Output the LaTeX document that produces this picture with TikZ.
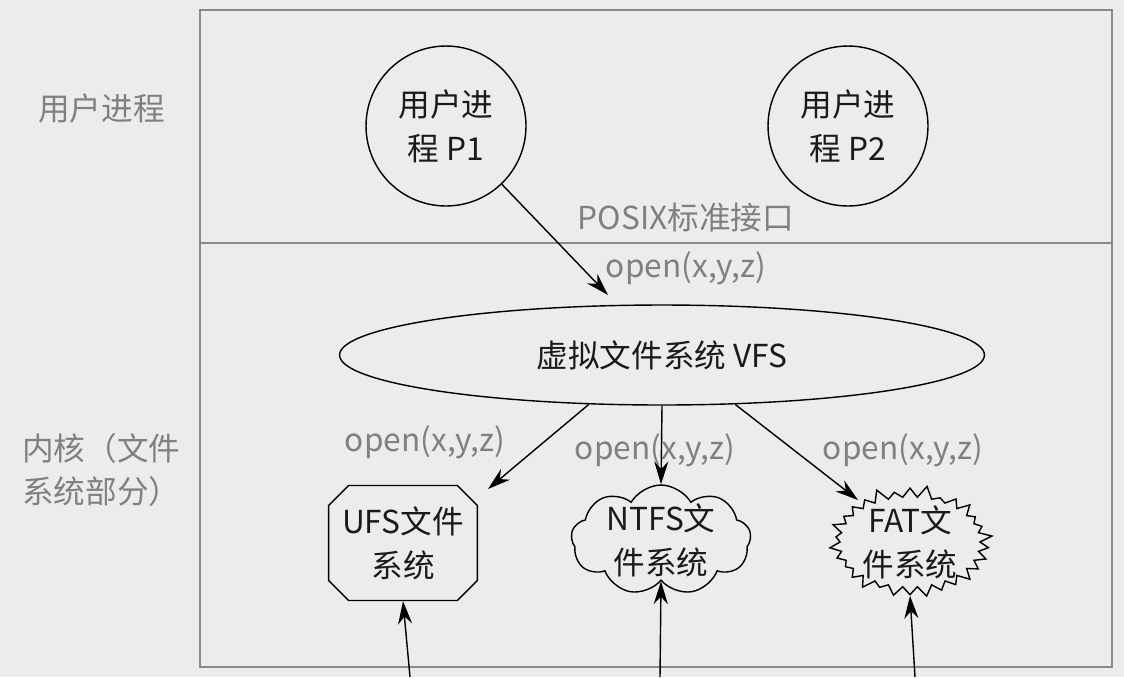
\documentclass[tikz,border=0pt]{standalone}
\usepackage{fontspec}
\setmainfont{Noto Sans CJK SC}
\usetikzlibrary{shapes.geometric,shapes.symbols,shapes.misc,arrows.meta}
\definecolor{bg}{HTML}{ECECEC}
\definecolor{frame}{HTML}{8A8A8A}
\definecolor{note}{HTML}{808080}
\definecolor{ink}{HTML}{1A1A1A}
\tikzset{
	proc/.style={circle, draw, thick, minimum size=3.2cm, align=center, text=ink},
	fs/.style={draw, thick, align=center, text=ink},
	note/.style={text=note},
	call/.style={-{Stealth[length=13pt,width=8pt]}, thick}
}
\begin{document}
\begin{tikzpicture}[x=0.02cm, y=-0.02cm, font=\fontsize{18}{25}\selectfont]
	\fill[bg] (0,0) rectangle (1124,677);
	\useasboundingbox (0,0) rectangle (1124,677);

	% frame
	\draw[frame, thick] (200,10) rectangle (1112,667);
	\draw[frame, thick] (200,243) -- (1112,243);
	\node[note, anchor=west] (user) at (32,108) {用户进程};
	\node[note, anchor=west, align=left] (kernel) at (16,470) {内核（文件\\系统部分）};

	% processes
	\node[proc] (P1) at (446,126) {用户进\\程 P1};
	\node[proc] (P2) at (848,126) {用户进\\程 P2};
	\node[note] (posix) at (686,218) {POSIX标准接口};
	\node[note] (call0) at (686,268) {open(x,y,z)};

	% vfs
	\node[ellipse, draw, thick, minimum width=12.9cm, minimum height=2cm, text=ink] (VFS) at (662,355) {虚拟文件系统 VFS};

	% file systems
	\node[fs, chamfered rectangle, chamfered rectangle xsep=0.2cm, chamfered rectangle ysep=0.2cm,
		minimum width=2.9cm, minimum height=2.3cm, inner sep=2pt] (UFS) at (403,543) {UFS文件\\系统};
	\node[fs, cloud, cloud puffs=9, cloud puff arc=120, aspect=1.7, minimum width=3.6cm, minimum height=2.2cm,
		inner sep=-6pt] (NTFS) at (661,540) {NTFS文\\件系统};
	\node[fs, starburst, starburst points=30, starburst point height=0.25cm, minimum width=3.3cm,
		minimum height=2.3cm, inner sep=-6pt] (FAT) at (910,542) {FAT文\\件系统};
	\node[note] (call1) at (425,442) {open(x,y,z)};
	\node[note] (call2) at (655,450) {open(x,y,z)};
	\node[note] (call3) at (903,450) {open(x,y,z)};

	\coordinate (in1) at (410,677);
	\coordinate (in2) at (660,677);
	\coordinate (in3) at (915,677);

	\draw[call] (P1) -- (608,295);
	\draw[call] (VFS.214) -- (488,489);
	\draw[call] (VFS.south) -- (NTFS.north);
	\draw[call] (VFS.326) -- (858,500);
	\draw[call] (in1) -- (UFS.south);
	\draw[call] (in2) -- (NTFS.south);
	\draw[call] (in3) -- (FAT.south);
\end{tikzpicture}
\end{document}
